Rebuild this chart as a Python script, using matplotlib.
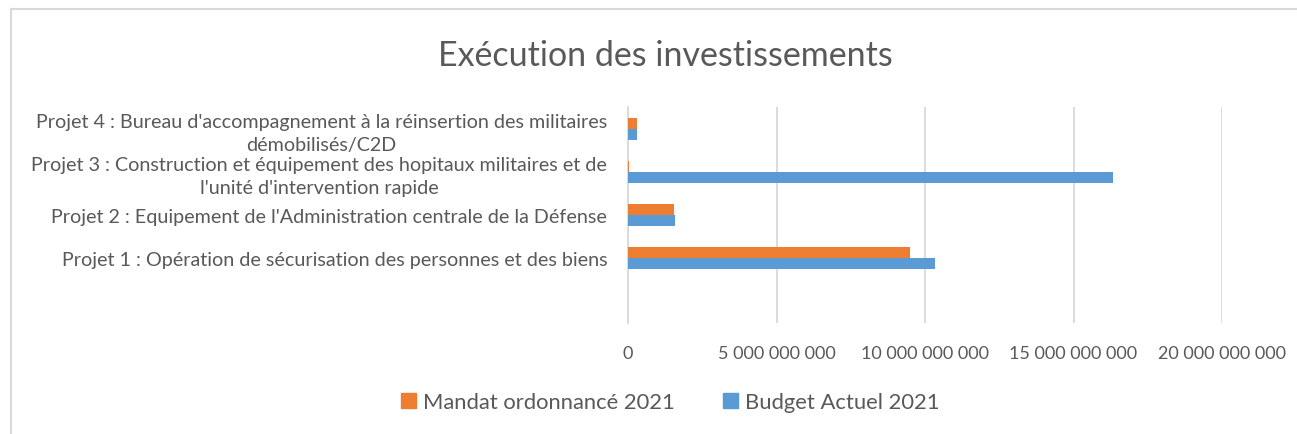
import matplotlib.pyplot as plt
import numpy as np
from matplotlib.lines import Line2D
from matplotlib.patches import Patch

# Données (en FCFA)
projets = [
    "Projet 1 : Opération de sécurisation des personnes et des biens",
    "Projet 2 : Equipement de l'Administration centrale de la Défense",
    "Projet 3 : Construction et équipement des hopitaux militaires et de\nl'unité d'intervention rapide",
    "Projet 4 : Bureau d'accompagnement à la réinsertion des militaires\ndémobilisés/C2D",
]
mandat_2021 = [9.50e9, 1.56e9, 0.02e9, 0.30e9]
budget_2021 = [10.34e9, 1.57e9, 16.32e9, 0.30e9]
graduations = [0, 5e9, 10e9, 15e9, 20e9]

orange = '#ED7D31'
bleu = '#5B9BD5'
gris_texte = '#595959'
gris_ligne = '#D9D9D9'

plt.rcParams['font.family'] = ['Lato', 'DejaVu Sans']

W, H = 1297, 435
fig = plt.figure(figsize=(W / 100, H / 100), dpi=100)
ax = fig.add_axes([628 / W, (H - 324) / H, 594 / W, 216 / H])

y = np.arange(len(projets))
h = 0.255
ax.barh(y + h / 2, mandat_2021, h, color=orange, zorder=3, label='Mandat ordonnancé 2021')
ax.barh(y - h / 2, budget_2021, h, color=bleu, zorder=3, label='Budget Actuel 2021')

ax.set_xlim(0, 20e9)
ax.set_ylim(-1.5, len(projets) - 0.5)

ax.set_xticks(graduations)
ax.set_xticklabels([f"{v:,.0f}".replace(',', ' ') for v in graduations],
                   fontsize=13, color=gris_texte)
ax.set_yticks(y)
ax.set_yticklabels(projets, fontsize=14.2, color=gris_texte, multialignment='center',
                   linespacing=1.4)
ax.tick_params(axis='x', length=0, pad=16)
ax.tick_params(axis='y', length=0, pad=15)

ax.grid(axis='x', color=gris_ligne, linewidth=1.3, zorder=0)
ax.set_axisbelow(True)
for s in ['top', 'right', 'bottom']:
    ax.spines[s].set_visible(False)
ax.spines['left'].set_color(gris_ligne)
ax.spines['left'].set_linewidth(1.3)

fig.text(665 / W, (H - 56) / H, 'Exécution des investissements', ha='center', va='center',
         fontsize=24.5, color=gris_texte)

handles = [Patch(color=orange), Patch(color=bleu)]
fig.legend(handles, ['Mandat ordonnancé 2021', 'Budget Actuel 2021'], loc='center',
           bbox_to_anchor=(670 / W, (H - 403) / H), ncol=2, frameon=False,
           fontsize=15.8, labelcolor=gris_texte, handlelength=0.7, handleheight=0.7,
           handletextpad=0.3, columnspacing=2.2)

# cadre de la zone de graphique (bords gauche et haut visibles)
fig.add_artist(Line2D([11.5 / W, 11.5 / W], [0, 1 - 10 / H], color=gris_ligne, linewidth=1.5))
fig.add_artist(Line2D([11.5 / W, 1], [1 - 10 / H, 1 - 10 / H], color=gris_ligne, linewidth=1.5))

fig.savefig('out.png', dpi=100)
